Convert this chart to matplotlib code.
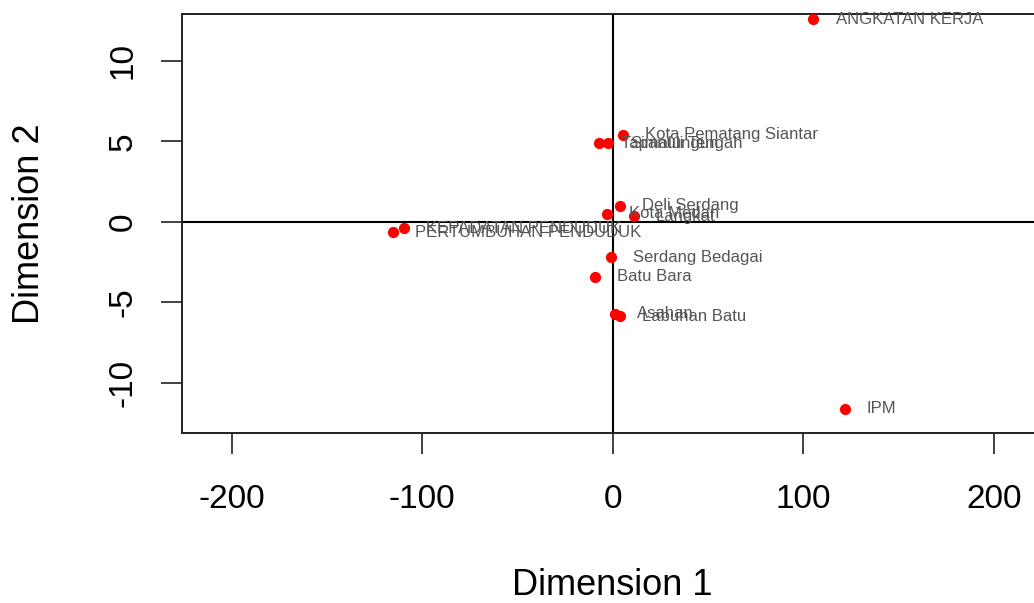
import matplotlib
matplotlib.use("Agg")
import matplotlib.pyplot as plt

# coordinates of the MDS output
labels = ["ANGKATAN KERJA", "IPM", "Kota Pematang Siantar", "Tapanuli Tengah",
          "Simalungun", "Deli Serdang", "Kota Medan", "Langkat",
          "PERTUMBUHAN PENDUDUK", "KEPADATAN PENDUDUK", "Serdang Bedagai",
          "Batu Bara", "Asahan", "Labuhan Batu"]
dim1 = [105.4, 121.7, 5.3, -7.4, -2.6, 3.7, -3.2, 11.0,
        -115.4, -109.6, -1.0, -9.5, 1.0, 3.7]
dim2 = [12.6, -11.6, 5.4, 4.9, 4.9, 1.0, 0.5, 0.35,
        -0.65, -0.4, -2.2, -3.4, -5.7, -5.85]

xticks = [-200, -100, 0, 100, 200]
yticks = [-10, -5, 0, 5, 10]

plt.rcParams['font.family'] = ['Liberation Sans', 'DejaVu Sans']
plt.rcParams['axes.unicode_minus'] = False

fig = plt.figure(figsize=(10.34, 6.03), dpi=100)
ax = fig.add_axes([0.176, 0.282, 0.833, 0.695])
ax.set_xlim(-226, 226)
ax.set_ylim(-13.1, 12.92)

ax.axhline(0, color='k', lw=1.5)
ax.axvline(0, color='k', lw=1.5)
ax.scatter(dim1, dim2, s=50, color='red', zorder=3)

# labels to the right of each point, like R text(pos=4)
for x, y, lab in zip(dim1, dim2, labels):
    ax.annotate(lab, (x, y), xytext=(16, 0), textcoords='offset points',
                va='center', ha='left', fontsize=12, color='#555555')

ax.set_xticks(xticks)
ax.set_yticks(yticks)
ax.set_yticklabels([str(v) for v in yticks], rotation=90, va='center')
ax.tick_params(axis='both', length=15, width=1.3, labelsize=24,
               direction='out', color='#333333')
ax.tick_params(axis='x', pad=22)
ax.tick_params(axis='y', pad=16)
for s in ax.spines.values():
    s.set_linewidth(1.4)
    s.set_color('#222222')

ax.set_xlabel("Dimension 1", fontsize=26, va='center')
ax.set_ylabel("Dimension 2", fontsize=26, va='center')
ax.xaxis.set_label_coords(0.5, -0.363)
ax.yaxis.set_label_coords(-0.1765, 0.5)

fig.savefig("out.png", dpi=100)
